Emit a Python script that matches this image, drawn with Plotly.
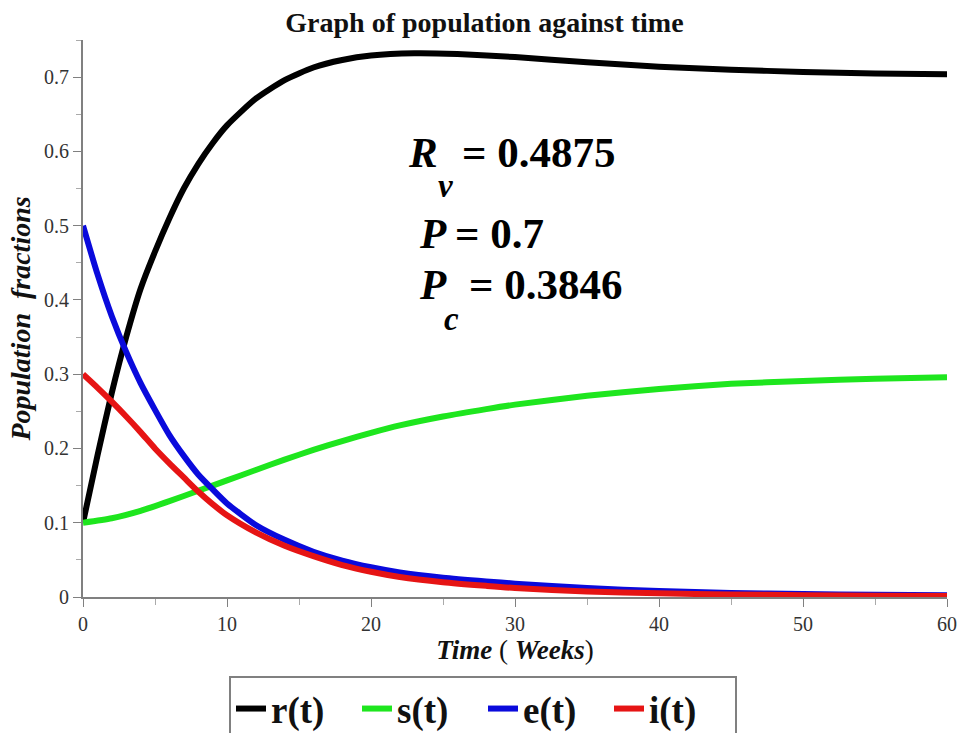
import plotly.graph_objects as go

# Time in weeks
t_r = [0, 1, 2, 3, 4, 5, 6, 7, 8, 9, 10, 12, 14, 16, 18, 20, 23, 26, 30, 35, 40, 45, 50, 55, 60]
r_vals = [0.1, 0.19, 0.275, 0.35, 0.415, 0.465, 0.51, 0.55, 0.583, 0.611, 0.635, 0.671, 0.696,
          0.713, 0.723, 0.729, 0.732, 0.731, 0.727, 0.72, 0.714, 0.71, 0.707, 0.705, 0.704]

t_s = [0, 2, 4, 6, 8, 10, 12, 14, 16, 18, 20, 22, 25, 28, 30, 35, 40, 45, 50, 55, 60]
s_vals = [0.1, 0.106, 0.116, 0.129, 0.143, 0.157, 0.171, 0.185, 0.198, 0.21, 0.221, 0.231,
          0.243, 0.253, 0.259, 0.271, 0.28, 0.287, 0.291, 0.294, 0.296]

t_ei = [0, 1, 2, 3, 4, 5, 6, 7, 8, 9, 10, 12, 14, 16, 18, 20, 22, 25, 28, 30, 35, 40, 45, 50, 55, 60]
e_vals = [0.5, 0.435, 0.378, 0.33, 0.288, 0.252, 0.218, 0.19, 0.165, 0.145, 0.126, 0.097, 0.077,
          0.061, 0.049, 0.04, 0.033, 0.026, 0.021, 0.018, 0.012, 0.008, 0.0055, 0.004, 0.003, 0.0025]
i_vals = [0.3, 0.282, 0.263, 0.243, 0.222, 0.2, 0.18, 0.161, 0.142, 0.125, 0.11, 0.087, 0.069,
          0.055, 0.043, 0.034, 0.027, 0.02, 0.015, 0.012, 0.0075, 0.005, 0.0035, 0.0025, 0.0018, 0.0013]

series = [
    ("r(t)", t_r, r_vals, "#000000"),
    ("s(t)", t_s, s_vals, "#1EE61E"),
    ("e(t)", t_ei, e_vals, "#0A0ADC"),
    ("i(t)", t_ei, i_vals, "#E61414"),
]

SERIF = "Liberation Serif"

fig = go.Figure()
for name, t, y, color in series:
    fig.add_trace(go.Scatter(
        x=t, y=y, mode="lines", name=f"<b>{name}</b>",
        line=dict(color=color, width=6, shape="spline", smoothing=0.6),
    ))

axis_common = dict(
    showline=True, linecolor="#808080", linewidth=2,
    showgrid=False, zeroline=False,
    ticks="outside", ticklen=8, tickcolor="#808080", tickwidth=1,
    tickfont=dict(family=SERIF, size=20, color="#333333"),
)

fig.update_xaxes(
    range=[0, 60], tickvals=[0, 10, 20, 30, 40, 50, 60],
    minor=dict(ticks="outside", ticklen=6, tickcolor="#aaaaaa", dtick=5, tick0=0),
    title=dict(text="<b><i>Time</i></b> ( <b><i>Weeks</i></b>)",
               font=dict(family=SERIF, size=27, color="#111111"), standoff=4),
    **axis_common,
)
fig.update_yaxes(
    range=[0, 0.75], tickvals=[0, 0.1, 0.2, 0.3, 0.4, 0.5, 0.6, 0.7],
    ticktext=["0", "0.1", "0.2", "0.3", "0.4", "0.5", "0.6", "0.7"],
    minor=dict(ticks="outside", ticklen=5, tickcolor="#aaaaaa", dtick=0.05, tick0=0),
    title=dict(text="<b><i>Population  fractions</i></b>",
               font=dict(family=SERIF, size=28, color="#111111"), standoff=5),
    **axis_common,
)

ann_font = dict(family=SERIF, size=43, color="#000000")
sub_font = dict(family=SERIF, size=33, color="#000000")
annotations = [
    dict(x=22.4, y=0.599, text="<b><i>R</i></b>", font=ann_font),
    dict(x=26.2, y=0.599, text="<b>= 0.4875</b>", font=ann_font),
    dict(x=24.5, y=0.553, text="<b><i>v</i></b>", font=sub_font),
    dict(x=23.2, y=0.489, text="<b><i>P</i></b>", font=ann_font),
    dict(x=25.7, y=0.489, text="<b>= 0.7</b>", font=ann_font),
    dict(x=23.2, y=0.421, text="<b><i>P</i></b>", font=ann_font),
    dict(x=26.7, y=0.421, text="<b>= 0.3846</b>", font=ann_font),
    dict(x=24.9, y=0.374, text="<b><i>c</i></b>", font=sub_font),
]
for a in annotations:
    a.update(xref="x", yref="y", showarrow=False, xanchor="left", yanchor="middle")

fig.update_layout(
    width=962, height=733,
    margin=dict(l=83, r=15, t=40, b=136, autoexpand=False),
    paper_bgcolor="white", plot_bgcolor="white",
    title=dict(text="<b>Graph of population against time</b>",
               font=dict(family=SERIF, size=28, color="#111111"),
               x=0.5036, xanchor="center", y=0.97, yanchor="middle"),
    annotations=annotations,
    legend=dict(
        orientation="h", xref="container", yref="container",
        x=229 / 962, xanchor="left", y=1 - 676 / 733, yanchor="top",
        font=dict(family=SERIF, size=37, color="#111111"),
        bordercolor="#808080", borderwidth=2, bgcolor="white",
        itemwidth=30, entrywidthmode="pixels", entrywidth=81,
    ),
)

fig.write_html("out.html")
